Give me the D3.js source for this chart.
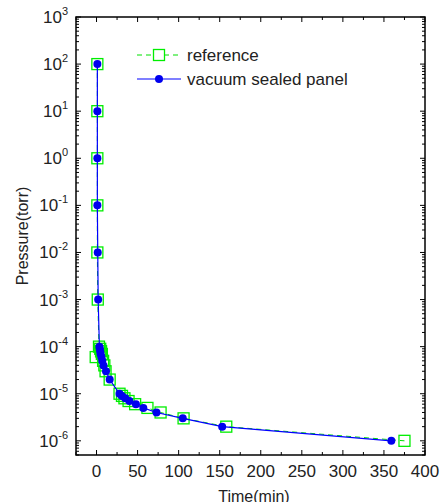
<!DOCTYPE html>
<html>
  <head>
    <meta charset="UTF-8">
    <style>
      body { margin: 0; background: #fff; }
      svg text { font-family: Arial, "Liberation Sans", sans-serif; fill: #222; }
    </style>
  </head>
  <body>
    <svg id="chart" width="440" height="502"></svg>
    <script src="https://d3js.org/d3.v7.min.js"></script>
    <script>
      // reference curve (green squares)
      var refTime = [1, 1, 1, 1, 1, 1.5, 3, 4.5, 5.5, 6.5, -1, 8, 9.5, 11, 16, 28, 31, 34, 39, 47, 62, 78, 106, 158, 375];
      var refPressure = [100, 10, 1, 0.1, 0.01, 0.001, 1e-4, 9e-5, 8e-5, 7e-5, 6e-5, 5e-5, 4e-5, 3e-5, 2e-5, 1e-5, 9e-6, 8e-6, 7e-6, 6e-6, 5e-6, 4e-6, 3e-6, 2e-6, 1e-6];

      // vacuum sealed panel (blue dots)
      var panelTime = [1, 1, 1, 1, 1.5, 2, 3.5, 4, 4.5, 5, 6, 7, 8.5, 11.5, 16, 28, 31, 35, 40, 48, 57, 73, 105, 153, 359];
      var panelPressure = [100, 10, 1, 0.1, 0.01, 0.001, 1e-4, 9e-5, 8e-5, 7e-5, 6e-5, 5e-5, 4e-5, 3e-5, 2e-5, 1e-5, 9e-6, 8e-6, 7e-6, 6e-6, 5e-6, 4e-6, 3e-6, 2e-6, 1e-6];

      var xTicks = [0, 50, 100, 150, 200, 250, 300, 350, 400];
      var yExponents = [-6, -5, -4, -3, -2, -1, 0, 1, 2, 3];

      var svg = d3.select("#chart");
      var pLeft = 76, pRight = 425, pTop = 17, pBottom = 455;

      var x = d3.scaleLinear().domain([-25, 400]).range([pLeft, pRight]);
      var y = d3.scaleLog().domain([5e-7, 1000]).range([pBottom, pTop]);

      var ref = refTime.map(function(t, i) { return {t: t, p: refPressure[i]}; });
      var panel = panelTime.map(function(t, i) { return {t: t, p: panelPressure[i]}; });

      // ticks (inward, on all four sides)
      var minorX = d3.range(-25, 401, 25);
      var tickG = svg.append("g").attr("stroke", "#000").attr("stroke-width", 1);
      minorX.forEach(function(v) {
        var len = (v % 50 === 0) ? 5 : 3;
        tickG.append("line").attr("x1", x(v)).attr("x2", x(v)).attr("y1", pBottom).attr("y2", pBottom - len);
        tickG.append("line").attr("x1", x(v)).attr("x2", x(v)).attr("y1", pTop).attr("y2", pTop + len);
      });
      for (var e = -7; e <= 3; e++) {
        for (var m = 1; m <= 9; m++) {
          var v = m * Math.pow(10, e);
          if (v < 5e-7 || v > 1000) continue;
          var len = m === 1 ? 5 : 3;
          tickG.append("line").attr("x1", pLeft).attr("x2", pLeft + len).attr("y1", y(v)).attr("y2", y(v));
          tickG.append("line").attr("x1", pRight).attr("x2", pRight - len).attr("y1", y(v)).attr("y2", y(v));
        }
      }

      // tick labels
      svg.selectAll(".xl").data(xTicks).enter().append("text")
          .attr("x", function(d) { return x(d); })
          .attr("y", 477)
          .attr("text-anchor", "middle")
          .attr("font-size", 17)
          .text(function(d) { return d; });

      var yl = svg.selectAll(".yl").data(yExponents).enter().append("text")
          .attr("x", 68)
          .attr("y", function(d) { return y(Math.pow(10, d)) + 6; })
          .attr("text-anchor", "end")
          .attr("font-size", 17);
      yl.append("tspan").text("10");
      yl.append("tspan").attr("font-size", 11).attr("dy", -8).text(function(d) { return d; });

      // axis titles
      svg.append("text")
          .attr("transform", "translate(28,236) rotate(-90)")
          .attr("text-anchor", "middle")
          .attr("font-size", 16)
          .text("Pressure(torr)");
      svg.append("text")
          .attr("x", 254).attr("y", 502)
          .attr("text-anchor", "middle")
          .attr("font-size", 16)
          .text("Time(min)");

      var line = d3.line()
          .x(function(d) { return x(d.t); })
          .y(function(d) { return y(d.p); });

      // reference series
      svg.append("path").datum(ref)
          .attr("d", line)
          .attr("fill", "none")
          .attr("stroke", "#00e000")
          .attr("stroke-width", 1)
          .attr("stroke-dasharray", "5,4");
      svg.selectAll(".sq").data(ref).enter().append("rect")
          .attr("x", function(d) { return x(d.t) - 5.5; })
          .attr("y", function(d) { return y(d.p) - 5.5; })
          .attr("width", 11).attr("height", 11)
          .attr("fill", "none")
          .attr("stroke", "#00ee00")
          .attr("stroke-width", 1.3);

      // vacuum sealed panel series
      svg.append("path").datum(panel)
          .attr("d", line)
          .attr("fill", "none")
          .attr("stroke", "#0000ff")
          .attr("stroke-width", 1.2);
      svg.selectAll(".dot").data(panel).enter().append("circle")
          .attr("cx", function(d) { return x(d.t); })
          .attr("cy", function(d) { return y(d.p); })
          .attr("r", 4)
          .attr("fill", "#0000ee");

      // frame
      svg.append("rect")
          .attr("x", pLeft).attr("y", pTop)
          .attr("width", pRight - pLeft).attr("height", pBottom - pTop)
          .attr("fill", "none").attr("stroke", "#000").attr("stroke-width", 1.5);

      // legend
      var lg = svg.append("g");
      lg.append("line").attr("x1", 137).attr("x2", 181).attr("y1", 55).attr("y2", 55)
          .attr("stroke", "#00e000").attr("stroke-dasharray", "5,4");
      lg.append("rect").attr("x", 153.5).attr("y", 49.5).attr("width", 11).attr("height", 11)
          .attr("fill", "#fff").attr("stroke", "#00ee00").attr("stroke-width", 1.3);
      lg.append("text").attr("x", 187).attr("y", 61).attr("font-size", 17).text("reference");
      lg.append("line").attr("x1", 137).attr("x2", 181).attr("y1", 79).attr("y2", 79)
          .attr("stroke", "#0000ff").attr("stroke-width", 1.2);
      lg.append("circle").attr("cx", 159).attr("cy", 79).attr("r", 4).attr("fill", "#0000ee");
      lg.append("text").attr("x", 187).attr("y", 85).attr("font-size", 17).text("vacuum sealed panel");
    </script>
  </body>
</html>
